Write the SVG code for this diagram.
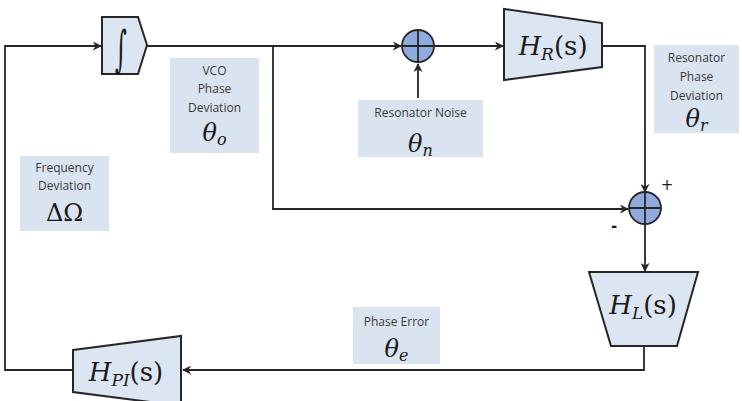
<svg xmlns="http://www.w3.org/2000/svg" width="742" height="401" viewBox="0 0 742 401">
  <style>
    .blk { fill: #dce6f2; stroke: #262626; stroke-width: 2; stroke-linejoin: miter; }
    .sum { fill: #8faadc; stroke: #262626; stroke-width: 1.8; }
    .cross { stroke: #262626; stroke-width: 1.8; fill: none; }
    .lbl { fill: #dae3f0; }
    .wire { fill: none; stroke: #262626; stroke-width: 1.8; }
    .t { font-family: "Open Sans", "Liberation Sans", sans-serif; font-size: 12px; fill: #3a3a3a; text-anchor: middle; }
    .m { font-family: "DejaVu Serif", "Liberation Serif", serif; font-style: italic; fill: #1a1a1a; text-anchor: middle; }
    .up { font-family: "DejaVu Serif", "Liberation Serif", serif; fill: #1a1a1a; }
    .sign { font-family: "DejaVu Sans", "Liberation Sans", sans-serif; font-size: 15px; fill: #1a1a1a; text-anchor: middle; }
  </style>
  <defs>
    <marker id="arr" viewBox="0 0 10 10" refX="9" refY="5" markerWidth="9" markerHeight="9" markerUnits="userSpaceOnUse" orient="auto">
      <path d="M0,0 L10,5 L0,10 L3,5 Z" fill="#262626"/>
    </marker>
  </defs>

  <rect width="742" height="401" fill="#ffffff"/>

  <!-- connectors -->
  <g id="connectors">
    <polyline class="wire" points="73,370 5,370 5,46 101,46" marker-end="url(#arr)"/>
    <polyline class="wire" points="147,46 401,46" marker-end="url(#arr)"/>
    <polyline class="wire" points="273,46 273,209 628,209" marker-end="url(#arr)"/>
    <polyline class="wire" points="434,46 503,46" marker-end="url(#arr)"/>
    <polyline class="wire" points="418,98 418,64" marker-end="url(#arr)"/>
    <polyline class="wire" points="602,46 645,46 645,192" marker-end="url(#arr)"/>
    <polyline class="wire" points="645,225 645,271" marker-end="url(#arr)"/>
    <polyline class="wire" points="644,346 644,370 183,370" marker-end="url(#arr)"/>
  </g>

  <!-- integrator -->
  <g id="integrator">
    <path class="blk" d="M102,17 L138,17 L147,45 L138,74 L102,74 Z"/>
    <text class="up" transform="translate(121,46) scale(0.6,1.3)" x="0" y="15" font-size="38" text-anchor="middle">∫</text>
  </g>

  <!-- VCO phase deviation label -->
  <g id="vco-phase">
    <rect class="lbl" x="170" y="58" width="89" height="95"/>
    <text class="t" x="214.5" y="75">VCO</text>
    <text class="t" x="214.5" y="93">Phase</text>
    <text class="t" x="214.5" y="112">Deviation</text>
    <text class="m" x="214.5" y="141" font-size="24">θ<tspan font-size="16" dy="4">o</tspan></text>
  </g>

  <!-- summing junction 1 -->
  <g id="sum1">
    <circle class="sum" cx="418" cy="46" r="16"/>
    <path class="cross" d="M402,46 H434 M418,30 V62"/>
  </g>

  <!-- resonator noise label -->
  <g id="resonator-noise">
    <rect class="lbl" x="358" y="100" width="125" height="57"/>
    <text class="t" x="420.5" y="117">Resonator Noise</text>
    <text class="m" x="420.5" y="152" font-size="24">θ<tspan font-size="16" dy="4">n</tspan></text>
  </g>

  <!-- resonator transfer function -->
  <g id="HR">
    <path class="blk" d="M504,9 L602,23 L602,67 L504,80 Z"/>
    <text class="m" x="553" y="55" font-size="26">H<tspan font-size="17" dy="5">R</tspan><tspan dy="-5" font-style="normal">(s)</tspan></text>
  </g>

  <!-- resonator phase deviation label -->
  <g id="resonator-phase">
    <rect class="lbl" x="654" y="45" width="85" height="88"/>
    <text class="t" x="696.5" y="62">Resonator</text>
    <text class="t" x="696.5" y="81">Phase</text>
    <text class="t" x="696.5" y="100">Deviation</text>
    <text class="m" x="696.5" y="127" font-size="24">θ<tspan font-size="16" dy="4">r</tspan></text>
  </g>

  <!-- summing junction 2 -->
  <g id="sum2">
    <circle class="sum" cx="645" cy="208" r="16"/>
    <path class="cross" d="M629,208 H661 M645,192 V224"/>
    <text class="sign" x="667" y="190">+</text>
    <text class="sign" x="614" y="231" font-weight="bold">-</text>
  </g>

  <!-- loop filter -->
  <g id="HL">
    <path class="blk" d="M589,272 L698,272 L677,346 L611,346 Z"/>
    <text class="m" x="643" y="314" font-size="26">H<tspan font-size="17" dy="5">L</tspan><tspan dy="-5" font-style="normal">(s)</tspan></text>
  </g>

  <!-- phase error label -->
  <g id="phase-error">
    <rect class="lbl" x="353" y="307" width="87" height="57"/>
    <text class="t" x="396.5" y="326">Phase Error</text>
    <text class="m" x="396.5" y="357" font-size="24">θ<tspan font-size="16" dy="4">e</tspan></text>
  </g>

  <!-- PI controller -->
  <g id="HPI">
    <path class="blk" d="M73,350 L181,336 L181,406 L73,392 Z"/>
    <text class="m" x="126" y="381" font-size="26">H<tspan font-size="17" dy="5">PI</tspan><tspan dy="-5" font-style="normal">(s)</tspan></text>
  </g>

  <!-- frequency deviation label -->
  <g id="freq-dev">
    <rect class="lbl" x="20" y="156" width="89" height="75"/>
    <text class="t" x="64.5" y="172">Frequency</text>
    <text class="t" x="64.5" y="190">Deviation</text>
    <text class="up" x="64.5" y="221" font-size="24" text-anchor="middle">ΔΩ</text>
  </g>
</svg>
